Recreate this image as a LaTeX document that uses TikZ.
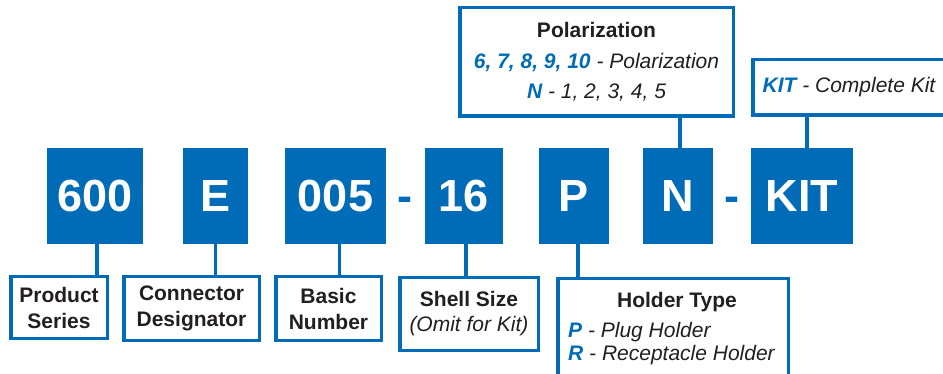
\documentclass[tikz,border=0pt]{standalone}
\usepackage{fontspec}
\setmainfont{Liberation Sans}
\usetikzlibrary{positioning}
\definecolor{codeblue}{RGB}{0,108,183}
\definecolor{ink}{RGB}{35,31,32}
\newcommand{\key}[1]{\textcolor{codeblue}{\bfseries\itshape #1}}
\newcommand{\plain}[1]{{\mdseries\itshape #1}}
\newcommand{\lnk}[3]{\draw[link] ([xshift=#3pt]#1.south) -- ([xshift=#3pt]#1.south |- #2.north); }
\newcommand{\lnkup}[3]{\draw[link] ([xshift=#3pt]#1.north) -- ([xshift=#3pt]#1.north |- #2.south); }

\begin{document}
\begin{tikzpicture}[x=1pt,y=-1pt,
  code/.style={fill=codeblue,text=white,font=\fontsize{45}{45}\selectfont\bfseries,minimum height=96pt,inner sep=0pt,text height=32pt,text depth=0pt},
  sep/.style={text=codeblue,font=\fontsize{45}{45}\selectfont\bfseries,inner sep=0pt,text height=32pt,text depth=0pt},
  legend/.style={draw=codeblue,line width=3.5pt,fill=white,text=ink,align=center,inner sep=0pt,font=\fontsize{21}{26}\selectfont\bfseries},
  item/.style={text=ink,inner sep=0pt,font=\fontsize{21}{21}\selectfont\itshape},
  link/.style={draw=codeblue,line width=3.5pt}]
  \useasboundingbox (0,0) rectangle (943,374);
  % code boxes
  \node[code,minimum width=96pt] (c600) at (95,196) {600};
  \node[code,minimum width=65pt] (ce) at (215.5,196) {E};
  \node[code,minimum width=101pt] (c005) at (335.5,196) {005};
  \node[sep] (d1) at (405,196) {-};
  \node[code,minimum width=78pt] (c16) at (464,196) {16};
  \node[code,minimum width=70pt] (cp) at (574,196) {P};
  \node[code,minimum width=70pt] (cn) at (678,196) {N};
  \node[sep] (d2) at (732,196) {-};
  \node[code,minimum width=102pt] (ckit) at (802,196) {KIT};
  % legends
  \node[legend,minimum width=273.5pt,minimum height=108.5pt,font=\fontsize{21}{30.5}\selectfont\bfseries] (pol) at (596.5,62)
    {Polarization\\\key{6, 7, 8, 9, 10} \plain{- Polarization}\\\key{N} \plain{- 1, 2, 3, 4, 5}};
  \node[legend,minimum width=192.5pt,minimum height=55.5pt] (kitnote) at (849,87.5) {\key{KIT} \plain{- Complete Kit}};
  \node[legend,minimum width=96.5pt,minimum height=61.5pt] (ps) at (59,307.5) {Product\\Series};
  \node[legend,minimum width=135.5pt,minimum height=63.5pt] (cd) at (191.5,308.5) {Connector\\Designator};
  \node[legend,minimum width=105.5pt,minimum height=63.5pt] (bn) at (328.5,308.5) {Basic\\Number};
  \node[legend,minimum width=138.5pt,minimum height=72.5pt,font=\fontsize{21}{25}\selectfont\bfseries] (ss) at (469,314) {Shell Size\\\plain{(Omit for Kit)}};
  \node[legend,minimum width=230.5pt,minimum height=99.5pt] (holder) at (673,328.5) {};
  \node[legend,draw=none,fill=none,anchor=base] (ht) at (677,307.5) {Holder Type};
  \node[item,anchor=base west] (hp) at (568,337.5) {\key{P} - Plug Holder};
  \node[item,anchor=base west] (hr) at (568,360.5) {\key{R} - Receptacle Holder};
  % links
  \lnk{c600}{ps}{2}
  \lnk{ce}{cd}{0}
  \lnk{c005}{bn}{4}
  \lnk{c16}{ss}{2}
  \lnk{cp}{holder}{4}
  \lnkup{cn}{pol}{2}
  \lnkup{ckit}{kitnote}{5}
\end{tikzpicture}
\end{document}
